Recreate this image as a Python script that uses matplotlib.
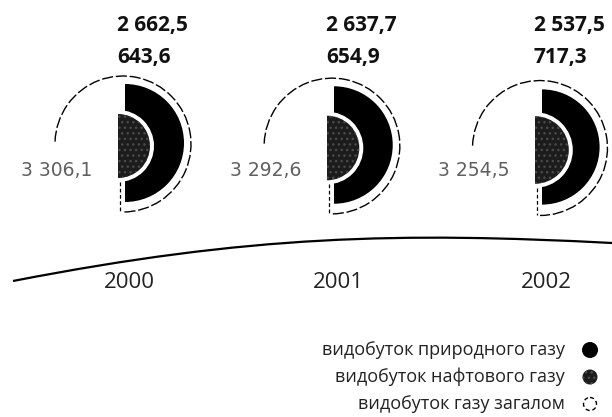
import matplotlib

matplotlib.use("Agg")
import matplotlib.pyplot as plt
import numpy as np
from matplotlib.patches import Arc, Circle, PathPatch, Wedge
from matplotlib.path import Path

plt.rcParams["font.family"] = ["Open Sans", "DejaVu Sans"]

# дані: видобуток газу, млн м3
years = ["2000", "2001", "2002"]
natural_gas = [2662.5, 2637.7, 2537.5]
oil_gas = [643.6, 654.9, 717.3]
total_gas = [3306.1, 3292.6, 3254.5]
legend_labels = [
    "видобуток природного газу",
    "видобуток нафтового газу",
    "видобуток газу загалом",
]

BLACK = "#000000"
OIL = "#1c1c1c"
HATCH = "#4a4a4a"
GREY_TXT = "#606060"


def fmt(v):
    return f"{v:,.1f}".replace(",", " ").replace(".", ",")


fig = plt.figure(figsize=(6.12, 4.17), dpi=100)
ax = fig.add_axes([0, 0, 1, 1])
ax.set_xlim(0, 612)
ax.set_ylim(417, 0)
ax.axis("off")

# центри груп у пікселях
centers_x = [125, 334, 542]
centers_y = [143, 145, 147]
r_nat0, r_oil0, r_tot0 = 59, 32, 68

for i, year in enumerate(years):
    cx, cy = centers_x[i], centers_y[i]
    r_nat = r_nat0 * np.sqrt(natural_gas[i] / natural_gas[0])
    r_oil = r_oil0 * np.sqrt(oil_gas[i] / oil_gas[0])
    r_tot = r_tot0 * np.sqrt(total_gas[i] / total_gas[0])
    ox, oy = cx - 7, cy + 3

    # природний газ - чорне півкільце
    ax.add_patch(Wedge((cx, cy), r_nat, -90, 90, facecolor=BLACK, lw=0))
    # білий проміжок навколо нафтового газу
    ax.add_patch(Wedge((ox, oy), r_oil + 4, -90, 90, facecolor="white", lw=0))
    # нафтовий газ
    ax.add_patch(Wedge((ox, oy), r_oil, -90, 90, facecolor=OIL,
                       edgecolor=HATCH, hatch="...", lw=0))

    # загалом - тонка дуга
    ax.add_patch(Arc((cx - 2, cy + 1), 2 * r_tot, 2 * r_tot, theta1=-178,
                     theta2=90, color=BLACK, lw=1.0, ls=(0, (8, 2))))
    ax.plot([cx - 5, cx - 5], [oy + r_oil + 4, cy + 1 + r_tot],
            color=BLACK, lw=0.9, ls=(0, (3, 2)))

    # підписи
    ax.text(cx - 8, 25, fmt(natural_gas[i]), fontsize=15, fontweight="bold",
            ha="left", va="center", color="#111111")
    ax.text(cx - 8, 57, fmt(oil_gas[i]), fontsize=15, fontweight="bold",
            ha="left", va="center", color="#111111")
    ax.text(cx - 33, 170, fmt(total_gas[i]), fontsize=13.5, ha="right",
            va="center", color=GREY_TXT, family="DejaVu Sans")
    ax.text(cx + 4, 282, year, fontsize=16, ha="center", va="center",
            color="#222222")

# декоративна крива
verts = [(13, 281), (250, 235), (400, 232), (612, 243)]
codes = [Path.MOVETO, Path.CURVE4, Path.CURVE4, Path.CURVE4]
ax.add_patch(PathPatch(Path(verts, codes), facecolor="none",
                       edgecolor=BLACK, lw=1.6))

# легенда
legend_y = [350, 377, 404]
for label, ly in zip(legend_labels, legend_y):
    ax.text(565, ly, label, fontsize=13, ha="right", va="center",
            color="#222222")
ax.add_patch(Circle((590, legend_y[0]), 8, facecolor=BLACK, lw=0))
ax.add_patch(Circle((590, legend_y[1]), 7.5, facecolor=OIL,
                    edgecolor=HATCH, hatch="...", lw=0))
ax.add_patch(Circle((590, legend_y[2]), 6.5, facecolor="none",
                    edgecolor=BLACK, lw=1.0, ls=(0, (3, 2))))

fig.savefig("out.png", dpi=100)
